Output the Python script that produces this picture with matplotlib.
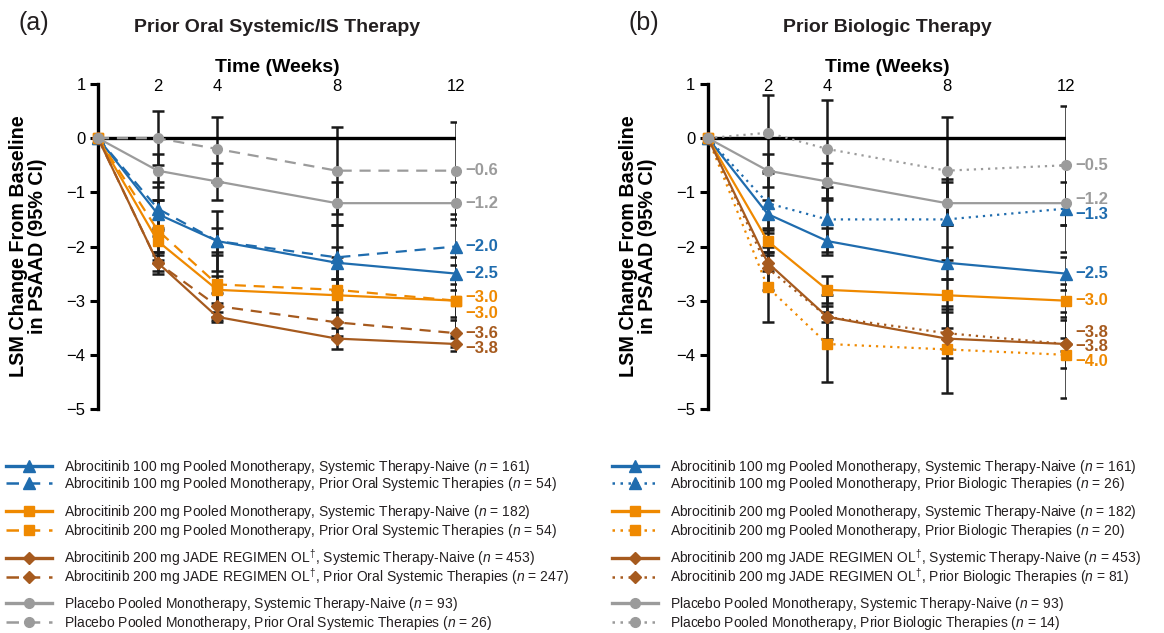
import numpy as np
import matplotlib
matplotlib.use("Agg")
import matplotlib.pyplot as plt
from matplotlib.lines import Line2D

plt.rcParams['font.family'] = ['Liberation Sans', 'DejaVu Sans']
plt.rcParams['mathtext.fontset'] = 'custom'
plt.rcParams['mathtext.rm'] = 'Liberation Sans'
plt.rcParams['mathtext.it'] = 'Liberation Sans:italic'

# --- data (LSM change from baseline in PSAAD, half-width of 95% CI) ---
weeks = [0, 2, 4, 8, 12]
week_ticks = [2, 4, 8, 12]

# systemic therapy-naive groups (same in both panels)
abro100_naive = [0, -1.4, -1.9, -2.3, -2.5]
abro100_naive_ci = [0, 0.25, 0.25, 0.3, 0.3]
abro200_naive = [0, -1.9, -2.8, -2.9, -3.0]
abro200_naive_ci = [0, 0.2, 0.25, 0.3, 0.3]
jade_naive = [0, -2.3, -3.3, -3.7, -3.8]
jade_naive_ci = [0, 0.15, 0.1, 0.2, 0.12]
pbo_naive = [0, -0.6, -0.8, -1.2, -1.2]
pbo_naive_ci = [0, 0.3, 0.35, 0.4, 0.4]

# (a) prior oral systemic therapies
abro100_oral = [0, -1.3, -1.9, -2.2, -2.0]
abro100_oral_ci = [0, 0.5, 0.55, 0.6, 0.6]
abro200_oral = [0, -1.7, -2.7, -2.8, -3.0]
abro200_oral_ci = [0, 0.55, 0.6, 0.6, 0.65]
jade_oral = [0, -2.3, -3.1, -3.4, -3.6]
jade_oral_ci = [0, 0.2, 0.25, 0.25, 0.25]
pbo_oral = [0, 0.0, -0.2, -0.6, -0.6]
pbo_oral_ci = [0, 0.5, 0.6, 0.8, 0.9]

# (b) prior biologic therapies
abro100_bio = [0, -1.2, -1.5, -1.5, -1.3]
abro100_bio_ci = [0, 0.55, 0.6, 0.75, 0.8]
abro200_bio = [0, -2.75, -3.8, -3.9, -4.0]
abro200_bio_ci = [0, 0.65, 0.7, 0.8, 0.8]
jade_bio = [0, -2.4, -3.3, -3.6, -3.8]
jade_bio_ci = [0, 0.4, 0.4, 0.45, 0.45]
pbo_bio = [0, 0.1, -0.2, -0.6, -0.5]
pbo_bio_ci = [0, 0.7, 0.9, 1.0, 1.1]

n_naive = [161, 182, 453, 93]
n_oral = [54, 54, 247, 26]
n_bio = [26, 20, 81, 14]

# --- styles ---
BLUE = '#1f6cae'
ORANGE = '#ef8900'
BROWN = '#a65a1e'
GRAY = '#9b9b9b'
COLORS = [BLUE, ORANGE, BROWN, GRAY]
MARKERS = ['^', 's', 'D', 'o']
MSIZES = [8, 7, 6.5, 7]
GROUPS = ['Abrocitinib 100 mg Pooled Monotherapy',
          'Abrocitinib 200 mg Pooled Monotherapy',
          r'Abrocitinib 200 mg JADE REGIMEN OL$^{\dagger}$',
          'Placebo Pooled Monotherapy']
DASHED = (0, (5, 3.5))
DOTTED = (0, (1, 2.2))
TXT = '#231f20'


def fmt(v):
    return f"{v:.1f}".replace('-', '\u2212')


def plot_panel(ax, naive, naive_ci, prior, prior_ci, prior_ls, label_dy):
    # error bars first, lines and markers on top
    for y, ci in zip(naive + prior, naive_ci + prior_ci):
        ax.errorbar(weeks[1:], y[1:], yerr=ci[1:], fmt='none', ecolor='#1a1a1a',
                    elinewidth=1.8, capsize=4.5, capthick=1.8, zorder=2)
    ax.plot([weeks[0], weeks[-1]], [0, 0], color='black', lw=2.4, zorder=2.5,
            solid_capstyle='butt')
    for i in range(4):
        for y, ls, dy in ((naive[i], '-', label_dy[i]),
                          (prior[i], prior_ls, label_dy[4 + i])):
            ax.plot(weeks, y, color=COLORS[i], ls=ls, lw=1.6, marker=MARKERS[i],
                    ms=MSIZES[i], mec=COLORS[i], zorder=3, clip_on=False)
            ax.annotate(fmt(y[-1]), (weeks[-1], y[-1]), xytext=(7, dy),
                        textcoords='offset points', va='center', ha='left',
                        color=COLORS[i], fontsize=12, fontweight='bold',
                        annotation_clip=False)

    ax.set_xlim(0, 12)
    ax.set_ylim(-5, 1)
    ax.set_yticks(range(-5, 2))
    ax.set_yticklabels([str(t).replace('-', '\u2212') for t in range(-5, 2)])
    ax.set_xticks(week_ticks)
    ax.xaxis.set_ticks_position('top')
    ax.tick_params(axis='x', length=0, pad=-7, labelsize=12)
    ax.tick_params(axis='y', length=6, width=2.2, labelsize=12, pad=3)
    for s in ('top', 'right', 'bottom'):
        ax.spines[s].set_visible(False)
    ax.spines['left'].set_linewidth(2.4)
    ax.xaxis.set_label_position('top')
    ax.set_xlabel('Time (Weeks)', fontsize=14, fontweight='bold', labelpad=5)
    ax.set_ylabel('LSM Change From Baseline\nin PSAAD (95% CI)', fontsize=14.2,
                  fontweight='bold', labelpad=14, linespacing=1.0)


def add_legend(fig, x, prior_ls, prior_text, prior_n):
    rows_y = [466.7, 484.3, 512, 530.5, 558, 576.5, 604, 622.5]
    for i in range(4):
        h1 = Line2D([], [], color=COLORS[i], ls='-', lw=2.4, marker=MARKERS[i],
                    ms=MSIZES[i])
        h2 = Line2D([], [], color=COLORS[i], ls=prior_ls, lw=1.8, marker=MARKERS[i],
                    ms=MSIZES[i])
        labels = [f"{GROUPS[i]}, Systemic Therapy-Naive ($\\mathit{{n}}$ = {n_naive[i]})",
                  f"{GROUPS[i]}, {prior_text} ($\\mathit{{n}}$ = {prior_n[i]})"]
        for j, (h, lab) in enumerate(zip((h1, h2), labels)):
            leg = fig.legend([h], [lab], loc='center left',
                             bbox_to_anchor=(x, 1 - rows_y[2 * i + j] / 633),
                             frameon=False, fontsize=10, handlelength=3.3,
                             handletextpad=0.9, borderpad=0, borderaxespad=0)
            for t in leg.get_texts():
                t.set_color(TXT)


if __name__ == "__main__":
    fig = plt.figure(figsize=(11.64, 6.33), dpi=100)
    ax_a = fig.add_axes([98 / 1164, 1 - 409 / 633, 358 / 1164, 325 / 633])
    ax_b = fig.add_axes([708 / 1164, 1 - 409 / 633, 358 / 1164, 325 / 633])

    naive = [abro100_naive, abro200_naive, jade_naive, pbo_naive]
    naive_ci = [abro100_naive_ci, abro200_naive_ci, jade_naive_ci, pbo_naive_ci]
    oral = [abro100_oral, abro200_oral, jade_oral, pbo_oral]
    oral_ci = [abro100_oral_ci, abro200_oral_ci, jade_oral_ci, pbo_oral_ci]
    bio = [abro100_bio, abro200_bio, jade_bio, pbo_bio]
    bio_ci = [abro100_bio_ci, abro200_bio_ci, jade_bio_ci, pbo_bio_ci]

    # label vertical nudges (points): naive x4, prior x4
    plot_panel(ax_a, naive, naive_ci, oral, oral_ci, DASHED, [0, -9, -3, 0, 0, 2, 0, 0])
    plot_panel(ax_b, naive, naive_ci, bio, bio_ci, DOTTED, [0, 0, -2, 3, -4, -5, 8, 0])

    for ax, letter, title in ((ax_a, '(a)', 'Prior Oral Systemic/IS Therapy'),
                              (ax_b, '(b)', 'Prior Biologic Therapy')):
        pos = ax.get_position()
        fig.text(pos.x0 + pos.width / 2, 1 - 27 / 633, title, ha='center',
                 va='center', fontsize=14, fontweight='bold', color=TXT)
        fig.text(pos.x0 - 80 / 1164, 1 - 23 / 633, letter, ha='left',
                 va='center', fontsize=18, color=TXT)

    add_legend(fig, 6 / 1164, DASHED, 'Prior Oral Systemic Therapies', n_oral)
    add_legend(fig, 612 / 1164, DOTTED, 'Prior Biologic Therapies', n_bio)

    fig.savefig('out.png', dpi=100)
